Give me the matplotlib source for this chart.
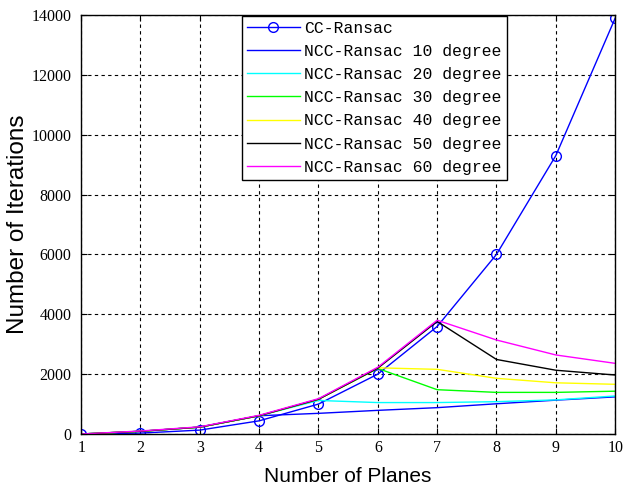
import numpy as np
import matplotlib.pyplot as plt

planes = [1, 2, 3, 4, 5, 6, 7, 8, 9, 10]
cc_ransac = [0, 30, 130, 440, 1000, 2000, 3590, 6000, 9300, 13890]
ncc_10 = [0, 90, 230, 610, 690, 790, 880, 1010, 1130, 1240]
ncc_20 = [0, 90, 230, 610, 1120, 1050, 1050, 1080, 1140, 1270]
ncc_30 = [0, 90, 230, 610, 1160, 2190, 1480, 1390, 1390, 1430]
ncc_40 = [0, 90, 230, 610, 1160, 2210, 2160, 1860, 1710, 1660]
ncc_50 = [0, 90, 230, 610, 1160, 2200, 3760, 2490, 2130, 1970]
ncc_60 = [0, 100, 240, 625, 1180, 2230, 3800, 3140, 2640, 2360]

labels = ['CC-Ransac', 'NCC-Ransac 10 degree', 'NCC-Ransac 20 degree',
          'NCC-Ransac 30 degree', 'NCC-Ransac 40 degree',
          'NCC-Ransac 50 degree', 'NCC-Ransac 60 degree']

fig = plt.figure(figsize=(6.29, 4.96), dpi=100)
ax = fig.add_axes([0.129, 0.125, 0.849, 0.845])

ax.plot(planes, cc_ransac, color='#0000ff', lw=1, marker='o', mfc='none',
        mec='#0000ff', ms=7, label=labels[0])
ncc = [ncc_10, ncc_20, ncc_30, ncc_40, ncc_50, ncc_60]
cols = ['#0000ff', '#00ffff', '#00ff00', '#ffff00', '#000000', '#ff00ff']
for s, c, lab in zip(ncc, cols, labels[1:]):
    ax.plot(planes, s, color=c, lw=1, label=lab)

ax.set_xlim(1, 10)
ax.set_ylim(0, 14000)
ax.set_xticks(planes)
ax.set_yticks(np.arange(0, 14001, 2000))
ax.grid(True, color='black', linestyle=(0, (3, 3)), linewidth=0.8)
ax.tick_params(direction='in', top=True, right=True, length=4)
ax.tick_params(axis='y', pad=7)
ax.tick_params(axis='x', pad=4)
for t in ax.get_xticklabels() + ax.get_yticklabels():
    t.set_fontfamily('Liberation Serif')
    t.set_fontsize(11.5)
for sp in ax.spines.values():
    sp.set_linewidth(1)

ax.set_xlabel('Number of Planes', fontsize=15, family='Liberation Sans',
              labelpad=8)
ax.set_ylabel('Number of Iterations', fontsize=17.5, family='Liberation Sans',
              labelpad=2)

leg = ax.legend(loc='upper left', bbox_to_anchor=(0.3, 1.0),
                prop={'family': 'Liberation Mono', 'size': 11.8},
                handlelength=3.2, handletextpad=0.3, labelspacing=0.5,
                borderpad=0.3, borderaxespad=0.05,
                fancybox=False, framealpha=1, edgecolor='black')
leg.get_frame().set_linewidth(1)

fig.savefig('out.png', dpi=100)
